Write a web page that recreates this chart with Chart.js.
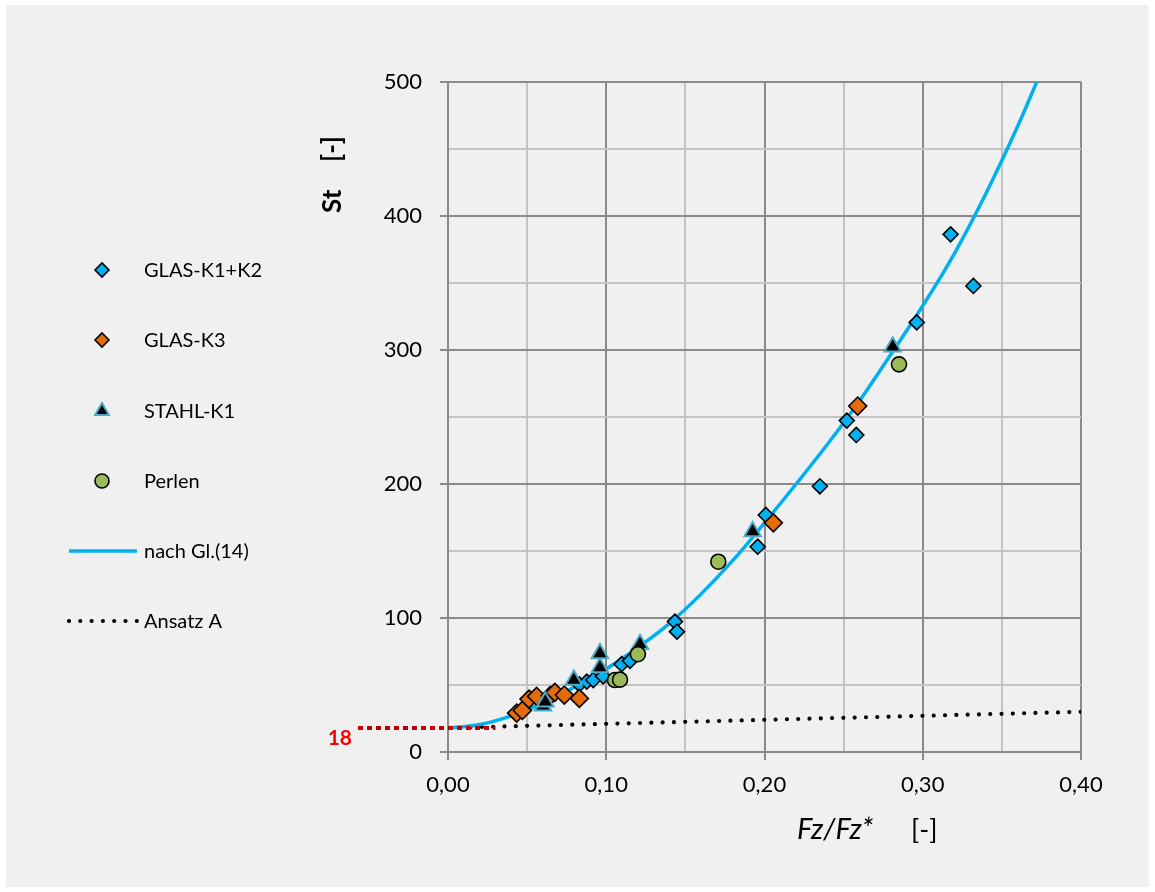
<!DOCTYPE html>
<html>
<head>
<meta charset="utf-8">
<script src="https://cdn.jsdelivr.net/npm/chart.js@4.4.1/dist/chart.umd.min.js"></script>
<style>
  html, body { margin: 0; padding: 0; background: #ffffff; }
  #wrap { width: 1155px; height: 892px; position: relative; }
</style>
</head>
<body>
<div id="wrap"><canvas id="c" width="1155" height="892"></canvas></div>
<script>
// Measured points: [Fz/Fz*, St]
const glasK1K2 = [
  [0.083, 50.5], [0.0877, 52.5], [0.0918, 53.7], [0.098, 56.5],
  [0.1097, 65.5], [0.115, 68], [0.1434, 97.3], [0.1447, 89.8],
  [0.1957, 153.2], [0.2008, 176.9], [0.235, 198.3], [0.252, 247.3],
  [0.258, 236.6], [0.2962, 320.6], [0.3176, 386.3], [0.332, 347.8]
];
const glasK3 = [
  [0.0434, 29], [0.047, 31], [0.0512, 39.5], [0.056, 41.5],
  [0.0645, 42], [0.0675, 44.5], [0.0735, 42.5], [0.083, 40],
  [0.2056, 171], [0.2589, 258.2]
];
const stahlK1 = [
  [0.060, 34.5], [0.0615, 37.5], [0.0795, 53.7], [0.096, 63],
  [0.096, 73.5], [0.1213, 80.5], [0.1925, 164.5], [0.281, 302.5]
];
const perlen = [
  [0.1055, 53.7], [0.1087, 54], [0.120, 73], [0.1708, 142], [0.285, 289.3]
];
// Curve according to Gl.(14)
const gl14 = [
  [0, 18], [0.02, 20.5], [0.04, 27], [0.06, 36.5], [0.08, 48.5],
  [0.10, 62], [0.12, 78], [0.14, 96], [0.16, 118], [0.18, 143],
  [0.20, 171], [0.22, 200], [0.24, 230], [0.26, 262], [0.28, 297],
  [0.30, 333], [0.32, 372], [0.34, 417], [0.36, 467], [0.372, 500]
];
// Ansatz A
const ansatzA = [[0, 18], [0.40, 30]];

const xTickLabels = ['0,00', '0,10', '0,20', '0,30', '0,40'];
const yTickLabels = ['0', '100', '200', '300', '400', '500'];
const interceptValue = 18;
const interceptLabel = '18';
const interceptEndX = 0.03;

const FONT = 'Lato, "Open Sans", sans-serif';
const toXY = arr => arr.map(p => ({ x: p[0], y: p[1] }));

const MAJOR = '#8a8a8a';
const MINOR = '#c3c3c3';

const datasets = [
  {
    label: 'GLAS-K1+K2', data: toXY(glasK1K2), order: 4,
    pointStyle: 'rectRot', pointRadius: 7.5, pointBackgroundColor: '#00b0f0',
    pointBorderColor: '#000000', pointBorderWidth: 1.6, showLine: false
  },
  {
    label: 'GLAS-K3', data: toXY(glasK3), order: 3,
    pointStyle: 'rectRot', pointRadius: 9, pointBackgroundColor: '#e36c09',
    pointBorderColor: '#000000', pointBorderWidth: 1.6, showLine: false
  },
  {
    label: 'STAHL-K1', data: toXY(stahlK1), order: 2,
    pointStyle: 'triangle', pointRadius: 9.5, pointBackgroundColor: '#000000',
    pointBorderColor: '#4bacc6', pointBorderWidth: 2, showLine: false
  },
  {
    label: 'Perlen', data: toXY(perlen), order: 1,
    pointStyle: 'circle', pointRadius: 7.5, pointBackgroundColor: '#9bbb59',
    pointBorderColor: '#000000', pointBorderWidth: 1.6, showLine: false
  },
  {
    label: 'nach Gl.(14)', data: toXY(gl14), order: 5, showLine: true,
    borderColor: '#00b0f0', borderWidth: 3.5, pointRadius: 0,
    tension: 0.4, fill: false
  },
  {
    label: 'Ansatz A', data: toXY(ansatzA), order: 6, showLine: true,
    borderColor: '#000000', borderWidth: 4.2, pointRadius: 0,
    borderDash: [0, 11.3], borderCapStyle: 'round', fill: false
  }
];

// Grey panel behind everything
const panelBg = {
  id: 'panelBg',
  beforeDraw(chart) {
    const ctx = chart.ctx;
    ctx.save();
    ctx.fillStyle = '#f0f0f0';
    ctx.fillRect(6, 5, 1143, 882);
    ctx.restore();
  }
};

// Legend column on the left
const sideLegend = {
  id: 'sideLegend',
  afterDraw(chart) {
    const ctx = chart.ctx;
    const rows = [270, 340, 411, 481, 551, 621];
    const symX = 102, textX = 144, lineX0 = 69, lineX1 = 137;
    ctx.save();
    chart.data.datasets.forEach((ds, i) => {
      const y = rows[i];
      if (ds.showLine) {
        ctx.save();
        ctx.strokeStyle = ds.borderColor;
        ctx.lineWidth = ds.borderWidth;
        if (ds.borderDash) {
          ctx.setLineDash(ds.borderDash);
          ctx.lineCap = ds.borderCapStyle || 'butt';
        }
        ctx.beginPath();
        ctx.moveTo(lineX0, y);
        ctx.lineTo(lineX1, y);
        ctx.stroke();
        ctx.restore();
      } else {
        ctx.save();
        ctx.fillStyle = ds.pointBackgroundColor;
        ctx.strokeStyle = ds.pointBorderColor;
        ctx.lineWidth = ds.pointBorderWidth;
        Chart.helpers.drawPoint(ctx, {
          pointStyle: ds.pointStyle, rotation: 0,
          radius: ds.pointStyle === 'triangle' ? 8 : 7, borderWidth: ds.pointBorderWidth
        }, symX, y);
        ctx.restore();
      }
      ctx.fillStyle = '#000000';
      ctx.font = '20px ' + FONT;
      ctx.textAlign = 'left';
      ctx.textBaseline = 'middle';
      ctx.fillText(ds.label, textX, y + 1);
    });
    ctx.restore();
  }
};

// Axis titles and the intercept marker
const annotations = {
  id: 'annotations',
  afterDatasetsDraw(chart) {
    const ctx = chart.ctx;
    const xs = chart.scales.x, ys = chart.scales.y;
    const yPix = ys.getPixelForValue(interceptValue);
    ctx.save();
    ctx.strokeStyle = '#c00000';
    ctx.lineWidth = 4;
    ctx.setLineDash([5, 4]);
    ctx.beginPath();
    ctx.moveTo(xs.left - 90, yPix);
    ctx.lineTo(xs.getPixelForValue(interceptEndX), yPix);
    ctx.stroke();
    ctx.restore();
  },
  afterDraw(chart) {
    const ctx = chart.ctx;
    const xs = chart.scales.x, ys = chart.scales.y;
    ctx.save();
    // intercept label
    ctx.fillStyle = '#ff0000';
    ctx.font = 'bold 21px ' + FONT;
    ctx.textAlign = 'right';
    ctx.textBaseline = 'middle';
    ctx.fillText(interceptLabel, xs.left - 96, ys.getPixelForValue(interceptValue) + 10);

    // x title
    ctx.fillStyle = '#000000';
    ctx.textAlign = 'left';
    ctx.textBaseline = 'alphabetic';
    ctx.font = 'italic 29px ' + FONT;
    ctx.fillText('Fz/Fz*', 797, 839);
    ctx.font = '27px ' + FONT;
    ctx.fillText('[-]', 911, 839);

    // y title
    ctx.translate(341, 213);
    ctx.rotate(-Math.PI / 2);
    ctx.font = 'bold 26px ' + FONT;
    ctx.fillText('St', 0, 0);
    ctx.fillText('[-]', 51, 0);
    ctx.restore();
  }
};

const isMajor = ctx => ctx.index % 2 === 0;

new Chart(document.getElementById('c'), {
  type: 'scatter',
  data: { datasets },
  options: {
    responsive: false,
    animation: false,
    layout: { padding: { left: 348, right: 74, top: 82, bottom: 0 } },
    plugins: { legend: { display: false }, tooltip: { enabled: false } },
    scales: {
      x: {
        type: 'linear', min: 0, max: 0.4,
        afterFit: s => { s.height = 140; },
        border: { color: MAJOR, width: 2 },
        grid: {
          lineWidth: 2,
          color: ctx => isMajor(ctx) ? MAJOR : MINOR,
          tickColor: ctx => isMajor(ctx) ? MAJOR : 'rgba(0,0,0,0)',
          tickLength: 8
        },
        ticks: {
          stepSize: 0.05, autoSkip: false, maxRotation: 0, padding: 12,
          color: '#000000', font: { family: FONT, size: 22 },
          callback: (v, i) => i % 2 === 0 ? xTickLabels[i / 2] : ''
        }
      },
      y: {
        type: 'linear', min: 0, max: 500,
        afterFit: s => { s.width = 100; },
        border: { color: MAJOR, width: 2 },
        grid: {
          lineWidth: 2,
          color: ctx => isMajor(ctx) ? MAJOR : MINOR,
          tickColor: ctx => isMajor(ctx) ? MAJOR : 'rgba(0,0,0,0)',
          tickLength: 8
        },
        ticks: {
          stepSize: 50, autoSkip: false, padding: 18,
          color: '#000000', font: { family: FONT, size: 22 },
          callback: (v, i) => i % 2 === 0 ? yTickLabels[i / 2] : ''
        }
      }
    }
  },
  plugins: [panelBg, sideLegend, annotations]
});
</script>
</body>
</html>
